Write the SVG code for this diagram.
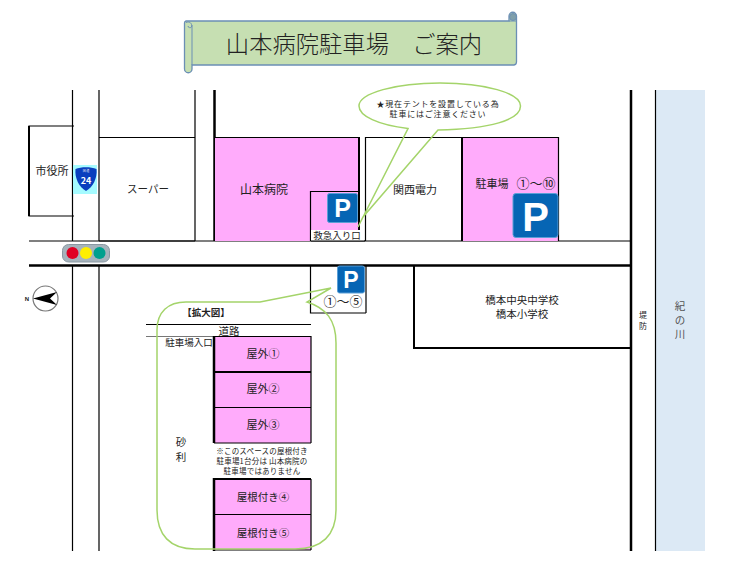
<svg xmlns="http://www.w3.org/2000/svg" width="738" height="569" viewBox="0 0 738 569">
<defs>
<style>
text{font-family:"Noto Sans CJK JP","Noto Sans",sans-serif;fill:#222;text-anchor:middle}
.t9{font-size:9.500px}.t10{font-size:10.500px}.t11{font-size:11px}.t7{font-size:7.500px;letter-spacing:.2px}
.t8{font-size:8px;letter-spacing:.8px}
.l1{stroke:#000;stroke-width:1.200;fill:none}
.l2{stroke:#000;stroke-width:2;fill:none}
.l3{stroke:#000;stroke-width:2.500;fill:none}
.pink{fill:#ffabfb}
.call{fill:none;stroke:#a4d46a;stroke-width:1.500}
.pb{fill:#0665b4;stroke:#5b9fd6;stroke-width:1}
.pt{fill:#fff;font-weight:700;font-family:"Liberation Sans",sans-serif}
</style>
</defs>
<rect width="738" height="569" fill="#fff"/>

<g id="title">
<path d="M186 21H509V16A3.500 3.500 0 0 1 516.500 16V62A3 3 0 0 1 514 65H192V69A3.700 3.700 0 0 1 184.500 69V23A2 2 0 0 1 186 21Z" fill="#c6dfb2" stroke="#6b8fb5" stroke-width="1.300"/>
<path d="M192 25V65M186 22.500C189 21 192.500 23 191.500 27C191 28 188 28 188 26" fill="none" stroke="#6b8fb5"/>
<circle cx="513" cy="17" r="3.500" fill="#7f9faa" stroke="#6b8fb5"/>
<path d="M509 21H516.500" stroke="#6b8fb5"/>
<text x="354" y="53" font-size="23.300" style="font-weight:300">山本病院駐車場　ご案内</text>
</g>

<g id="river"><rect x="656" y="90" width="49" height="461" fill="#dce9f5"/>
<text class="t10" x="680" y="310" style="fill:#555">紀</text><text class="t10" x="680" y="324" style="fill:#555">の</text><text class="t10" x="680" y="338" style="fill:#555">川</text></g>

<g id="roads">
<path class="l1" d="M72.500 90V241M72.500 266V551M99 90V241M99 266V551M99 137.500H195M99 241H195M195 90V241"/>
<path class="l3" d="M214.500 90V241"/>
<path class="l1" d="M29 241H631"/>
<path class="l3" d="M29 265.500H631"/>
<path class="l3" d="M631 90V551"/>
<path class="l1" d="M655.500 90V551"/>
</g>

<g id="city-hall"><path class="l1" d="M74 126H29V216H74"/><path d="M29 126V216" stroke="#000" stroke-width="2"/><text class="t11" x="52" y="175">市役所</text></g>
<g id="route24"><rect x="73" y="165" width="24" height="29" fill="#a5fbff"/><path d="M75.500 169C81 166.500 91 166.500 96.500 169C97.500 178 93 187 86 191C79 187 74.500 178 75.500 169Z" fill="#0a3fbe"/><text x="86" y="184" font-size="9" style="fill:#fff" font-weight="700">24</text><text x="86" y="172" font-size="3" style="fill:#fff">国 道</text></g>
<g id="supermarket"><text class="t10" x="148" y="193">スーパー</text></g>

<g id="hospital">
<rect x="215" y="138" width="144" height="103" class="pink"/>
<path d="M215 137.500H359" class="l1"/><path d="M359 137V241" class="l2"/>
<text x="264" y="194" font-size="12">山本病院</text>
</g>
<g id="emergency">
<path class="l1" d="M310.500 241V191.500H359"/>
<rect x="311" y="230" width="53" height="11" fill="#fff"/>
<path class="l2" d="M359 191V230"/>
<path class="l1" d="M311 241H365"/>
<text class="t9" x="337" y="239">救急入り口</text>
<rect x="327.500" y="193.500" width="30" height="29" rx="2" class="pb"/><text class="pt" x="342.500" y="217" font-size="25" style="fill:#fff">P</text>
</g>
<g id="kansai"><path class="l1" d="M365.500 241V137.500H462"/><text class="t11" x="415" y="194">関西電力</text></g>
<g id="parking10">
<rect x="462" y="138" width="97" height="103" class="pink"/>
<path class="l1" d="M462 137.500H559M558.500 137V241"/><path class="l2" d="M462 137V241"/>
<text class="t11" x="492" y="188">駐車場</text><text x="536" y="188" font-size="13">①～⑩</text>
<rect x="513" y="193.500" width="45" height="44" rx="3" class="pb"/><text class="pt" x="535.500" y="231" font-size="40" style="fill:#fff">P</text>
</g>
<g id="signal"><rect x="62.500" y="244.500" width="47" height="17.500" rx="6" fill="#a6b3bc" stroke="#8a98a2"/><circle cx="72.500" cy="253" r="6" fill="#e00024"/><circle cx="86" cy="253" r="6" fill="#ffee00"/><circle cx="99.500" cy="253" r="6" fill="#00a08e"/></g>
<g id="north"><circle cx="45.500" cy="298.500" r="12.500" fill="#fff" stroke="#777" stroke-width="1.200"/><path d="M33 298.500L57 292L50 298.500L57 305Z" fill="#000"/><text x="27" y="301" font-size="6" font-weight="700" style="font-family:'Liberation Sans'">N</text></g>

<g id="parking5">
<path class="l1" d="M310.500 266V313H366M366 266V313"/>
<rect x="337.500" y="266" width="27" height="27" rx="2" class="pb"/><text class="pt" x="351" y="288" font-size="23" style="fill:#fff">P</text>
<text x="343" y="306" font-size="13">①～⑤</text>
</g>
<g id="school"><path class="l2" d="M414 266V348H631"/><text class="t10" x="522" y="304">橋本中央中学校</text><text class="t10" x="522" y="318">橋本小学校</text></g>
<g id="bank"><text class="t8" x="643" y="318" style="font-size:8px;letter-spacing:0">堤</text><text class="t8" x="643" y="329" style="font-size:8px;letter-spacing:0">防</text></g>

<g id="enlarged">
<path d="M146 324.500H311" stroke="#000" stroke-width="1" fill="none"/>
<path d="M146 336.500H214" stroke="#777" stroke-width="1"/>
<rect x="214" y="337" width="97" height="106" class="pink"/>
<rect x="214" y="479" width="97" height="71" class="pink"/>
<path class="l3" d="M214 336V443M214 478V551"/>
<path class="l1" d="M214 336.500H311M311 336V443M214 407.500H311M214 443H311M311 479V550M214 514.500H311M214 550H311"/>
<path class="l2" d="M214 372H311M214 479H311"/>
<text class="t9" x="206" y="316" font-weight="700">【拡大図】</text>
<text x="229" y="335" font-size="10.500">道路</text>
<text class="t9" x="189" y="346">駐車場入口</text>
<text class="t11" x="263" y="358">屋外①</text><text class="t11" x="263" y="393">屋外②</text><text class="t11" x="263" y="429">屋外③</text>
<text class="t7" x="262" y="454">※このスペースの屋根付き</text><text class="t7" x="262" y="464">駐車場1台分は 山本病院の</text><text class="t7" x="262" y="474">駐車場ではありません</text>
<text class="t10" x="263" y="501">屋根付き④</text><text class="t10" x="263" y="537">屋根付き⑤</text>
<text class="t10" x="181" y="446">砂</text><text class="t10" x="181" y="461">利</text>
</g>

<g id="connectors">
<path class="call" d="M157 330C157 312 168 302 186 302H260L331 288L307 302C326 308 336 320 336 343V510C336 535 322 549 295 549H195C170 549 157 535 157 510Z"/>
<path class="call" d="M408 128.500C378 125 359 116 359 106C359 93 396 83 440 83C485 83 520.500 93 520.500 106C520.500 120 490 129 438 130L363 217L358 227Z"/>
</g>
<g id="note"><text class="t8" x="438" y="107">★現在テントを設置している為</text><text class="t8" x="438" y="117">駐車にはご注意ください</text></g>
</svg>
